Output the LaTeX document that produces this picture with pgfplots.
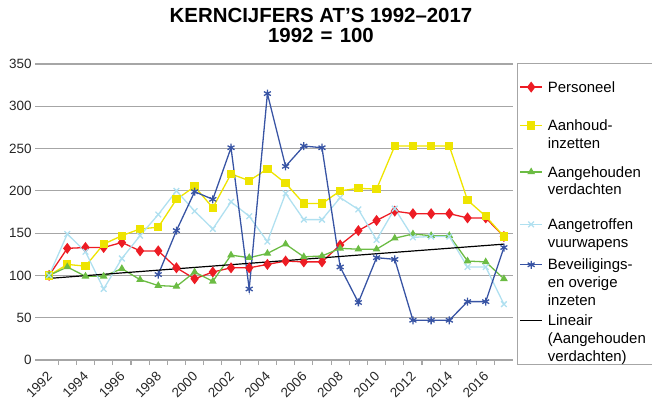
\documentclass[border=0pt]{standalone}
\usepackage{pgfplots}
\pgfplotsset{compat=1.18}
\usepackage{pgfplotstable}
\usepackage{fontspec}
\setmainfont{Liberation Sans}
\definecolor{cred}{RGB}{237,28,36}
\definecolor{cyel}{RGB}{238,228,0}
\definecolor{cgreen}{RGB}{108,188,68}
\definecolor{clblue}{RGB}{176,224,240}
\definecolor{cdblue}{RGB}{56,84,164}
\definecolor{gridgray}{RGB}{166,166,166}

\pgfplotstableread{
year pers aanh verd vuur bev
1992 100 100 100 100 nan
1993 132 113 110 149 nan
1994 133 111 99 128 nan
1995 133 137 99 84 nan
1996 139 147 108 120 nan
1997 129 155 95 147 nan
1998 129 157 88 172 101
1999 109 190 87 200 153
2000 96 205 104 176 199
2001 104 180 93 155 190
2002 109 220 124 187 251
2003 109 212 121 170 84
2004 113 226 126 140 315
2005 117 209 137 197 229
2006 116 185 122 166 253
2007 116 185 123 166 251
2008 136 200 132 192 110
2009 153 203 131 178 68
2010 165 202 131 142 121
2011 176 253 144 179 119
2012 173 253 149 145 47
2013 173 253 147 146 47
2014 173 253 147 146 47
2015 168 189 117 110 69
2016 168 170 116 110 69
2017 146 146 96 66 133
}\data

\newcommand{\hs}[1]{\rule{0pt}{#1}}
\newcommand{\ds}{\rule[-4bp]{0pt}{4bp}}
\pgfplotsset{
  limg/.style={legend image code/.code={\draw[mark repeat=2,mark phase=2] plot coordinates {(0bp,#1)(11bp,#1)(22bp,#1)};}},
}

\begin{document}
\begin{tikzpicture}
\path[use as bounding box] (0,0) rectangle (652bp,410bp);
\node[anchor=base,font=\fontsize{20.5}{24}\selectfont\bfseries,inner sep=0pt] at (321bp,387.3bp) {KERNCIJFERS AT’S 1992–2017};
\node[anchor=base,font=\fontsize{20.5}{24}\selectfont\bfseries,inner sep=0pt] at (321bp,367.3bp) {1992\hspace{0.35em}=\hspace{0.35em}100};
\begin{axis}[
  at={(40bp,50bp)}, anchor=south west, scale only axis,
  width=473bp, height=296bp,
  xmin=1991.5, xmax=2017.5, ymin=0, ymax=350,
  ytick={0,50,...,350},
  ymajorgrids, grid style={color=gridgray, line width=1.1pt},
  axis x line=bottom, axis y line=left,
  x axis line style={-, draw=gridgray, line width=1.1pt},
  y axis line style={draw=none},
  tick align=outside,
  tick style={color=gridgray, line width=1.1pt},
  major tick length=5bp, minor tick length=5bp,
  xtick={1992,1994,...,2016},
  minor xtick={1992.5,1993.5,...,2016.5},
  major x tick style={draw=none},
  xticklabel style={rotate=45, anchor=north east, inner sep=2pt, xshift=-4bp},
  tick label style={font=\fontsize{13.5}{15}\selectfont, text=black!85},
  /pgf/number format/assume math mode=true,
  /pgf/number format/1000 sep={},
  clip=false,
  legend cell align=left,
  legend style={at={(1.0085,1.003)}, anchor=north west, draw=gridgray, line width=1pt,
     font=\fontsize{15}{18}\selectfont, inner xsep=2bp, inner ysep=1bp, row sep=0pt,
     cells={anchor=base west},
     nodes={align=left, inner xsep=5bp, inner ysep=1bp}},
]
\addplot[cred, line width=1.3pt, mark=diamond*, mark size=4.5bp, mark options={solid}, limg=5bp] table[x=year,y=pers] {\data};
\addlegendentry{\hs{26.5bp}Personeel\ds}
\addplot[cyel, line width=1.3pt, mark=square*, mark size=3.5bp, mark options={solid}, limg=23bp] table[x=year,y=aanh] {\data};
\addlegendentry{\hs{35bp}Aanhoud-\\inzetten\ds}
\addplot[cgreen, line width=1.3pt, mark=triangle*, mark size=3.2bp, mark options={solid}, limg=23bp] table[x=year,y=verd] {\data};
\addlegendentry{\hs{25bp}Aangehouden\\verdachten\ds}
\addplot[clblue, line width=1.3pt, mark=x, mark size=4bp, mark options={solid}, limg=23bp] table[x=year,y=vuur] {\data};
\addlegendentry{\hs{31bp}Aangetroffen\\vuurwapens\ds}
\addplot[cdblue, line width=1.3pt, mark=asterisk, mark size=4bp, mark options={solid}, limg=41bp] table[x=year,y=bev] {\data};
\addlegendentry{\hs{19bp}Beveiligings-\\en overige\\inzeten\ds}
\addplot[black, line width=1.2pt, limg=41bp] coordinates {(1992,96.5) (2017,137)};
\addlegendentry{\hs{16bp}Lineair\\(Aangehouden\\verdachten)\rule[-5bp]{0pt}{5bp}}
\end{axis}
\end{tikzpicture}
\end{document}
